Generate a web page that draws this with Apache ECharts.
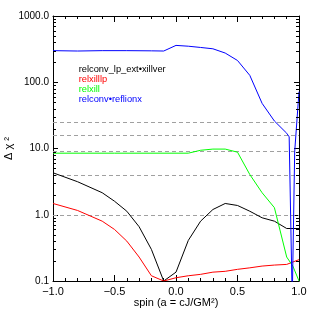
<!DOCTYPE html>
<html>
<head>
<meta charset="utf-8">
<script src="https://cdn.jsdelivr.net/npm/echarts@6/dist/echarts.min.js"></script>
<style>html,body{margin:0;padding:0;background:#fff}#c{width:315px;height:315px}</style>
</head>
<body>
<div id="c"></div>
<script>
// ---- data ----
var seriesNames = ['relconv_lp_ext\u2022xillver', 'relxilllp', 'relxill', 'relconv\u2022reflionx'];
var seriesColors = ['#000000', '#ff0000', '#00ff00', '#0000ff'];

var spinBlack = [-1.0, -0.8, -0.6, -0.5, -0.4, -0.3, -0.2, -0.1, 0.0, 0.1, 0.2, 0.3, 0.4, 0.5, 0.6, 0.7, 0.8, 0.9, 1.0];
var chiBlack  = [4.3, 3.15, 2.15, 1.6, 1.13, 0.66, 0.3, 0.1, 0.136, 0.41, 0.8, 1.2, 1.48, 1.38, 1.13, 0.9, 0.8, 0.62, 0.62];

var spinRed = [-1.0, -0.8, -0.6, -0.5, -0.4, -0.3, -0.2, -0.1, 0.0, 0.1, 0.2, 0.3, 0.4, 0.5, 0.6, 0.7, 0.8, 0.9, 1.0];
var chiRed  = [1.48, 1.16, 0.80, 0.60, 0.40, 0.23, 0.12, 0.1, 0.112, 0.12, 0.126, 0.136, 0.14, 0.15, 0.158, 0.168, 0.174, 0.178, 0.21];

var spinGreen = [-1.0, -0.5, 0.0, 0.1, 0.2, 0.3, 0.4, 0.5, 0.6, 0.7, 0.8, 0.9, 0.95, 1.0];
var chiGreen  = [8.5, 8.5, 8.5, 8.5, 9.4, 9.8, 9.8, 8.8, 4.05, 2.15, 1.28, 0.23, 0.168, 0.1];

var spinBlue = [-1.0, -0.8, -0.6, -0.4, -0.2, -0.1, 0.0, 0.1, 0.2, 0.3, 0.4, 0.5, 0.6, 0.7, 0.8, 0.9, 0.92, 0.945, 0.965, 1.0];
var chiBlue  = [300, 296, 300, 300, 298, 296, 360, 350, 335, 320, 276, 213, 127, 48, 26, 17, 15, 0.05, 9, 72];

var refLevels = [1, 4, 9, 16, 25];
var yMinorTicks = [0.2,0.3,0.4,0.5,0.6,0.7,0.8,0.9, 2,3,4,5,6,7,8,9, 20,30,40,50,60,70,80,90, 200,300,400,500,600,700,800,900];

var xTitle = 'spin (a = cJ/GM\u00b2)';
var yTitle = '\u0394 \u03c7 \u00b2';

// ---- build ----
function pairs(xs, ys) { return xs.map(function (x, i) { return [x, ys[i]]; }); }
var allData = [pairs(spinBlack, chiBlack), pairs(spinRed, chiRed), pairs(spinGreen, chiGreen), pairs(spinBlue, chiBlue)];

var FONT = 'Liberation Sans, Arial, sans-serif';
var axLine = { show: true, onZero: false, lineStyle: { color: '#000', width: 1 } };

function xAx(pos, labels) {
  return {
    type: 'value', position: pos, min: -1, max: 1, interval: 0.5,
    axisLine: axLine,
    axisTick: { show: true, inside: true, length: 6, lineStyle: { color: '#000' } },
    minorTick: { show: true, splitNumber: 5, length: 3, lineStyle: { color: '#000' } },
    splitLine: { show: false },
    axisLabel: labels ? {
      show: true, margin: 5, fontSize: 11, fontFamily: FONT, color: '#000',
      formatter: function (v) { return (v < 0 ? '\u2212' : '') + Math.abs(v).toFixed(1); }
    } : { show: false },
    name: labels ? xTitle : '', nameLocation: 'middle', nameGap: 16, nameMoveOverlap: false,
    nameTextStyle: { fontSize: 11, fontFamily: FONT, color: '#000' }
  };
}
function yAx(pos, labels) {
  return {
    type: 'log', logBase: 10, position: pos, min: 0.1, max: 1000,
    axisLine: axLine,
    axisTick: { show: true, inside: true, length: 5, lineStyle: { color: '#000' } },
    splitLine: { show: false },
    axisLabel: labels ? {
      show: true, margin: 4, fontSize: 10, fontFamily: FONT, color: '#000',
      formatter: function (v) { return Number(v).toFixed(1); }
    } : { show: false },
    name: labels ? yTitle : '', nameLocation: 'middle', nameGap: 39, nameMoveOverlap: false,
    nameTextStyle: { fontSize: 11, fontFamily: FONT, color: '#000' }
  };
}

var series = allData.map(function (d, i) {
  var s = {
    type: 'line', name: seriesNames[i], data: d, xAxisIndex: 0, yAxisIndex: 0,
    showSymbol: false, symbol: 'none', animation: false, clip: true,
    lineStyle: { color: seriesColors[i], width: 1 }, itemStyle: { color: seriesColors[i] },
    z: 3 + i
  };
  if (i === 0) {
    s.markLine = {
      silent: true, symbol: 'none', animation: false,
      label: { show: false },
      lineStyle: { color: '#a0a0a0', type: [4, 3], width: 1 },
      data: refLevels.map(function (v) { return { yAxis: v }; }),
      z: 1
    };
  }
  return s;
});

// logarithmic minor ticks on left and right frame edges, placed through the axes' own scale
series.push({
  type: 'custom', name: 'minorTicks', xAxisIndex: 0, yAxisIndex: 0, silent: true, animation: false,
  clip: false, z: 10,
  dimensions: ['x', 'y'],
  encode: { x: 0, y: 1 },
  data: yMinorTicks.map(function (v) { return [-1, v]; }),
  renderItem: function (params, api) {
    var v = api.value(1);
    var p = api.coord([-1, v]);
    var q = api.coord([1, v]);
    var y = Math.round(p[1]) + 0.5;
    var st = { stroke: '#000', lineWidth: 1, fill: null };
    return {
      type: 'group',
      children: [
        { type: 'line', shape: { x1: p[0], y1: y, x2: p[0] + 3, y2: y }, style: st },
        { type: 'line', shape: { x1: q[0] - 3, y1: y, x2: q[0], y2: y }, style: st }
      ]
    };
  }
});

var chart = echarts.init(document.getElementById('c'), null, { renderer: 'canvas' });
chart.setOption({
  backgroundColor: '#fff',
  animation: false,
  grid: { left: 53, right: 16, top: 16, bottom: 34, containLabel: false, outerBoundsMode: 'none' },
  legend: {
    orient: 'vertical', left: 68.7, top: 58.8, icon: 'none', itemWidth: 0, itemHeight: 8, itemGap: 0,
    selectedMode: false,
    textStyle: { fontSize: 9.3, fontFamily: FONT, lineHeight: 10.3 },
    data: seriesNames.map(function (n, i) { return { name: n, textStyle: { color: seriesColors[i] } }; })
  },
  xAxis: [xAx('bottom', true), xAx('top', false)],
  yAxis: [yAx('left', true), yAx('right', false)],
  series: series
});
</script>
</body>
</html>
